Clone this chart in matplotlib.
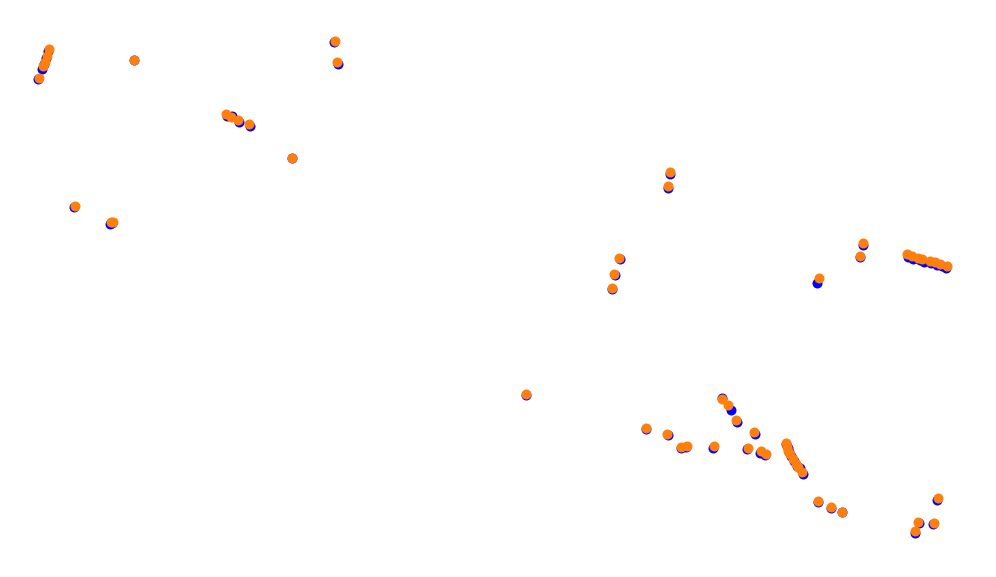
import matplotlib
matplotlib.use('Agg')
import numpy as np
import matplotlib.pyplot as plt

# positions (x right, y down)
orange_x = [49, 46.7, 45, 42.7, 39, 134, 334.7, 337, 225.7, 230.7, 238, 248.7, 292, 75, 110.5, 113,
            670.3, 667.7, 619.3, 614, 611.7, 862.7, 860, 818.7,
            906.7, 911.7, 918.3, 922.3, 930, 935, 940, 946.7,
            526, 722, 727.7, 736, 645.7, 667, 754, 680.7, 686.7, 713.7, 747.7, 760.7, 765.7,
            785.7, 786.7, 787.7, 790, 793.3, 796, 798.3, 802.3,
            818.3, 831.3, 841.7, 937.7, 918, 933.7, 914.7]
orange_y = [49, 55.7, 61.7, 66, 77.7, 59.7, 40.7, 62.3, 114.3, 116.7, 120, 124, 157.7, 205.7, 222, 221.5,
            172.3, 186, 257.7, 273.7, 287.7, 243, 256, 278.3,
            254.3, 256, 257.7, 259, 261, 262.3, 264, 266,
            394, 399.3, 405.3, 420, 427.7, 433.7, 432.3, 446.7, 445.7, 446.3, 447.7, 451.3, 453.7,
            442.7, 446.7, 450.7, 454, 459.3, 464.3, 466.7, 472,
            500.7, 506.7, 511.7, 498.3, 521.7, 522.7, 530.7]

blue_x = [48, 45.5, 43.5, 41.5, 38, 134, 334, 338, 226.5, 232, 239, 249.5, 292, 74, 110, 112,
          669.5, 668, 620, 614.5, 612, 863, 860, 816.5,
          908, 913, 919.5, 924, 931, 936.5, 941.5, 946,
          525.5, 721.5, 730.5, 737, 645.5, 667.5, 754.5, 680.5, 686, 713, 747, 760, 765,
          786, 787.5, 789, 791, 794, 797, 799.5, 803,
          818, 831, 841.7, 936.5, 918.5, 933, 914.5]
blue_y = [51, 58, 64, 68.5, 79, 59.7, 42, 64, 116, 116, 122, 125.5, 157.7, 207, 223.5, 223,
          173.5, 187.5, 259, 275, 289, 245, 257, 282.5,
          256.5, 258.5, 260, 261.5, 263, 264.5, 266, 267.5,
          395, 398, 410, 421.5, 429, 435, 433.5, 448, 447, 447.5, 449, 452.5, 455,
          443.5, 447.5, 452, 456, 461, 465.5, 468, 473.5,
          501.5, 508, 511.7, 500, 523, 524, 532.5]

fig = plt.figure(figsize=(9.96, 5.77), dpi=100)
ax = fig.add_axes([0, 0, 1, 1])
ax.scatter(blue_x, blue_y, s=52, color='blue', linewidths=0)
ax.scatter(orange_x, orange_y, s=52, color='#ff7f0e', linewidths=0)
ax.set_xlim(0, 996)
ax.set_ylim(577, 0)
ax.axis('off')

plt.savefig('out.png', dpi=100)
